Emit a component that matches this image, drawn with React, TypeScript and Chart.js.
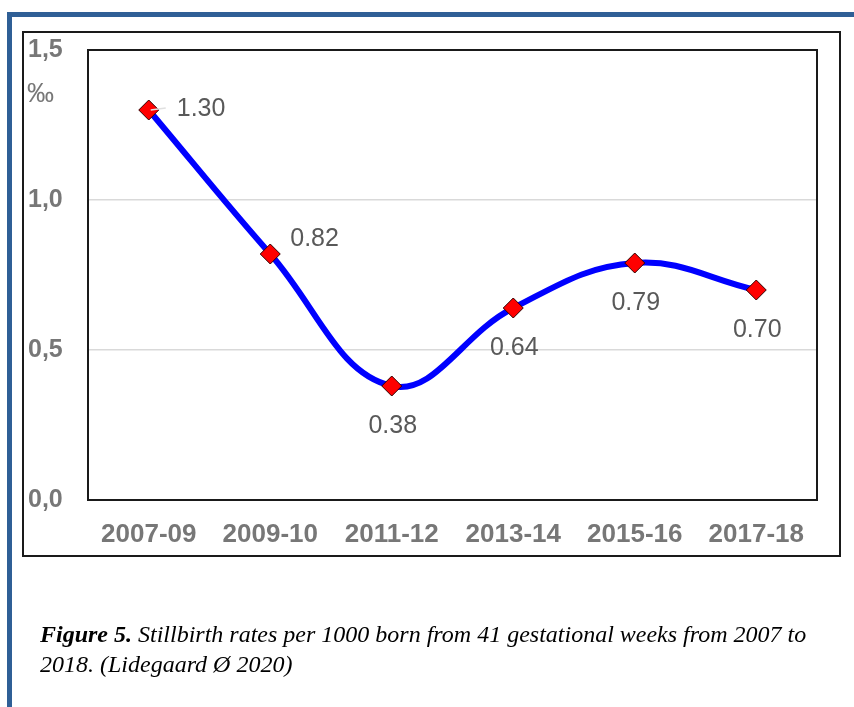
import React, { useEffect, useRef } from "react";
import { Chart, registerables } from "chart.js";

Chart.register(...registerables);

// Stillbirth rates (per mille) from 41 gestational weeks
const periods = ["2007-09", "2009-10", "2011-12", "2013-14", "2015-16", "2017-18"];
const rates = [1.3, 0.82, 0.38, 0.64, 0.79, 0.7];
const rateLabels = ["1.30", "0.82", "0.38", "0.64", "0.79", "0.70"];
const labelPlacement = ["right", "upright", "below", "below", "below", "below"];
const yTickLabels = ["0,0", "0,5", "1,0", "1,5"];

const captionBold = "Figure 5.";
const captionLine1 = " Stillbirth rates per 1000 born from 41 gestational weeks from 2007 to";
const captionLine2 = "2018. (Lidegaard \u00D8 2020)";

const W = 854;
const H = 707;
const SANS = '"Liberation Sans", Arial, sans-serif';
const SERIF = '"Liberation Serif", "Times New Roman", serif';

const framePlugin = {
  id: "frame",
  beforeDraw(chart: any) {
    const ctx = chart.ctx;
    ctx.save();
    ctx.fillStyle = "#ffffff";
    ctx.fillRect(0, 0, W, H);
    // blue page frame
    ctx.fillStyle = "#2f5f96";
    ctx.fillRect(7, 12, W - 7, 5);
    ctx.fillRect(7, 12, 5, H - 12);
    // outer chart box
    ctx.strokeStyle = "#1a1a1a";
    ctx.lineWidth = 2;
    ctx.strokeRect(23, 32, 817, 524);
    ctx.restore();
  },
  afterDraw(chart: any) {
    const ctx = chart.ctx;
    ctx.save();
    // unit label
    ctx.fillStyle = "#777777";
    ctx.font = `27px ${SANS}`;
    ctx.textBaseline = "middle";
    ctx.textAlign = "left";
    ctx.fillText("\u2030", 27, 95);
    // caption
    ctx.fillStyle = "#000000";
    ctx.font = `bold italic 24px ${SERIF}`;
    ctx.fillText(captionBold, 40, 636);
    const bw = ctx.measureText(captionBold).width;
    ctx.font = `italic 24px ${SERIF}`;
    ctx.fillText(captionLine1, 40 + bw, 636);
    ctx.fillText(captionLine2, 40, 666);
    ctx.restore();
  },
  beforeDatasetsDraw(chart: any) {
    const ctx = chart.ctx;
    const a = chart.chartArea;
    ctx.save();
    ctx.strokeStyle = "#1a1a1a";
    ctx.lineWidth = 2;
    ctx.strokeRect(a.left, a.top, a.right - a.left, a.bottom - a.top);
    ctx.restore();
  },
};

const valueLabelPlugin = {
  id: "valueLabels",
  afterDatasetsDraw(chart: any) {
    const ctx = chart.ctx;
    const meta = chart.getDatasetMeta(0);
    ctx.save();
    ctx.fillStyle = "#595959";
    ctx.font = `25px ${SANS}`;
    ctx.textBaseline = "middle";
    meta.data.forEach((pt: any, i: number) => {
      const place = labelPlacement[i];
      if (place === "right") {
        ctx.strokeStyle = "#e0e0e0";
        ctx.lineWidth = 1.5;
        ctx.beginPath();
        ctx.moveTo(pt.x + 2, pt.y);
        ctx.lineTo(pt.x + 17, pt.y - 2);
        ctx.stroke();
        ctx.textAlign = "left";
        ctx.fillText(rateLabels[i], pt.x + 28, pt.y - 1);
      } else if (place === "upright") {
        ctx.textAlign = "left";
        ctx.fillText(rateLabels[i], pt.x + 20, pt.y - 15);
      } else {
        ctx.textAlign = "center";
        ctx.fillText(rateLabels[i], pt.x + 1, pt.y + 40);
      }
    });
    ctx.restore();
  },
};

export default function App() {
  const ref = useRef<HTMLCanvasElement>(null);

  useEffect(() => {
    if (!ref.current) return;
    const chart = new Chart(ref.current, {
      type: "line",
      data: {
        labels: periods,
        datasets: [
          {
            data: rates,
            borderColor: "#0000ff",
            borderWidth: 6,
            tension: 0.4,
            pointStyle: "rectRot",
            pointRadius: 10,
            pointHoverRadius: 10,
            pointBackgroundColor: "#ff0000",
            pointBorderColor: "#300000",
            pointBorderWidth: 1,
          },
        ],
      },
      options: {
        responsive: false,
        animation: false,
        devicePixelRatio: 1,
        events: [],
        layout: { padding: { left: 28, top: 50, right: 37, bottom: 147 } },
        plugins: {
          legend: { display: false },
          tooltip: { enabled: false },
        },
        scales: {
          x: {
            offset: true,
            grid: { display: false },
            border: { display: false },
            afterFit: (s: any) => {
              s.height = 60;
            },
            ticks: {
              padding: 11,
              color: "#777777",
              font: { family: SANS, size: 26, weight: "bold" },
            },
          },
          y: {
            min: 0,
            max: 1.5,
            border: { display: false },
            afterFit: (s: any) => {
              s.width = 60;
            },
            grid: {
              drawTicks: false,
              color: (c: any) =>
                c.tick && (c.tick.value === 0 || c.tick.value === 1.5) ? "rgba(0,0,0,0)" : "#d9d9d9",
              lineWidth: 1.5,
            },
            ticks: {
              stepSize: 0.5,
              crossAlign: "far",
              color: "#777777",
              font: { family: SANS, size: 25, weight: "bold" },
              callback: (_v: any, i: number) => yTickLabels[i],
            },
          },
        },
      },
      plugins: [framePlugin, valueLabelPlugin],
    });
    return () => chart.destroy();
  }, []);

  return (
    <canvas
      ref={ref}
      width={W}
      height={H}
      style={{ position: "fixed", left: 0, top: 0, width: W, height: H }}
    />
  );
}
